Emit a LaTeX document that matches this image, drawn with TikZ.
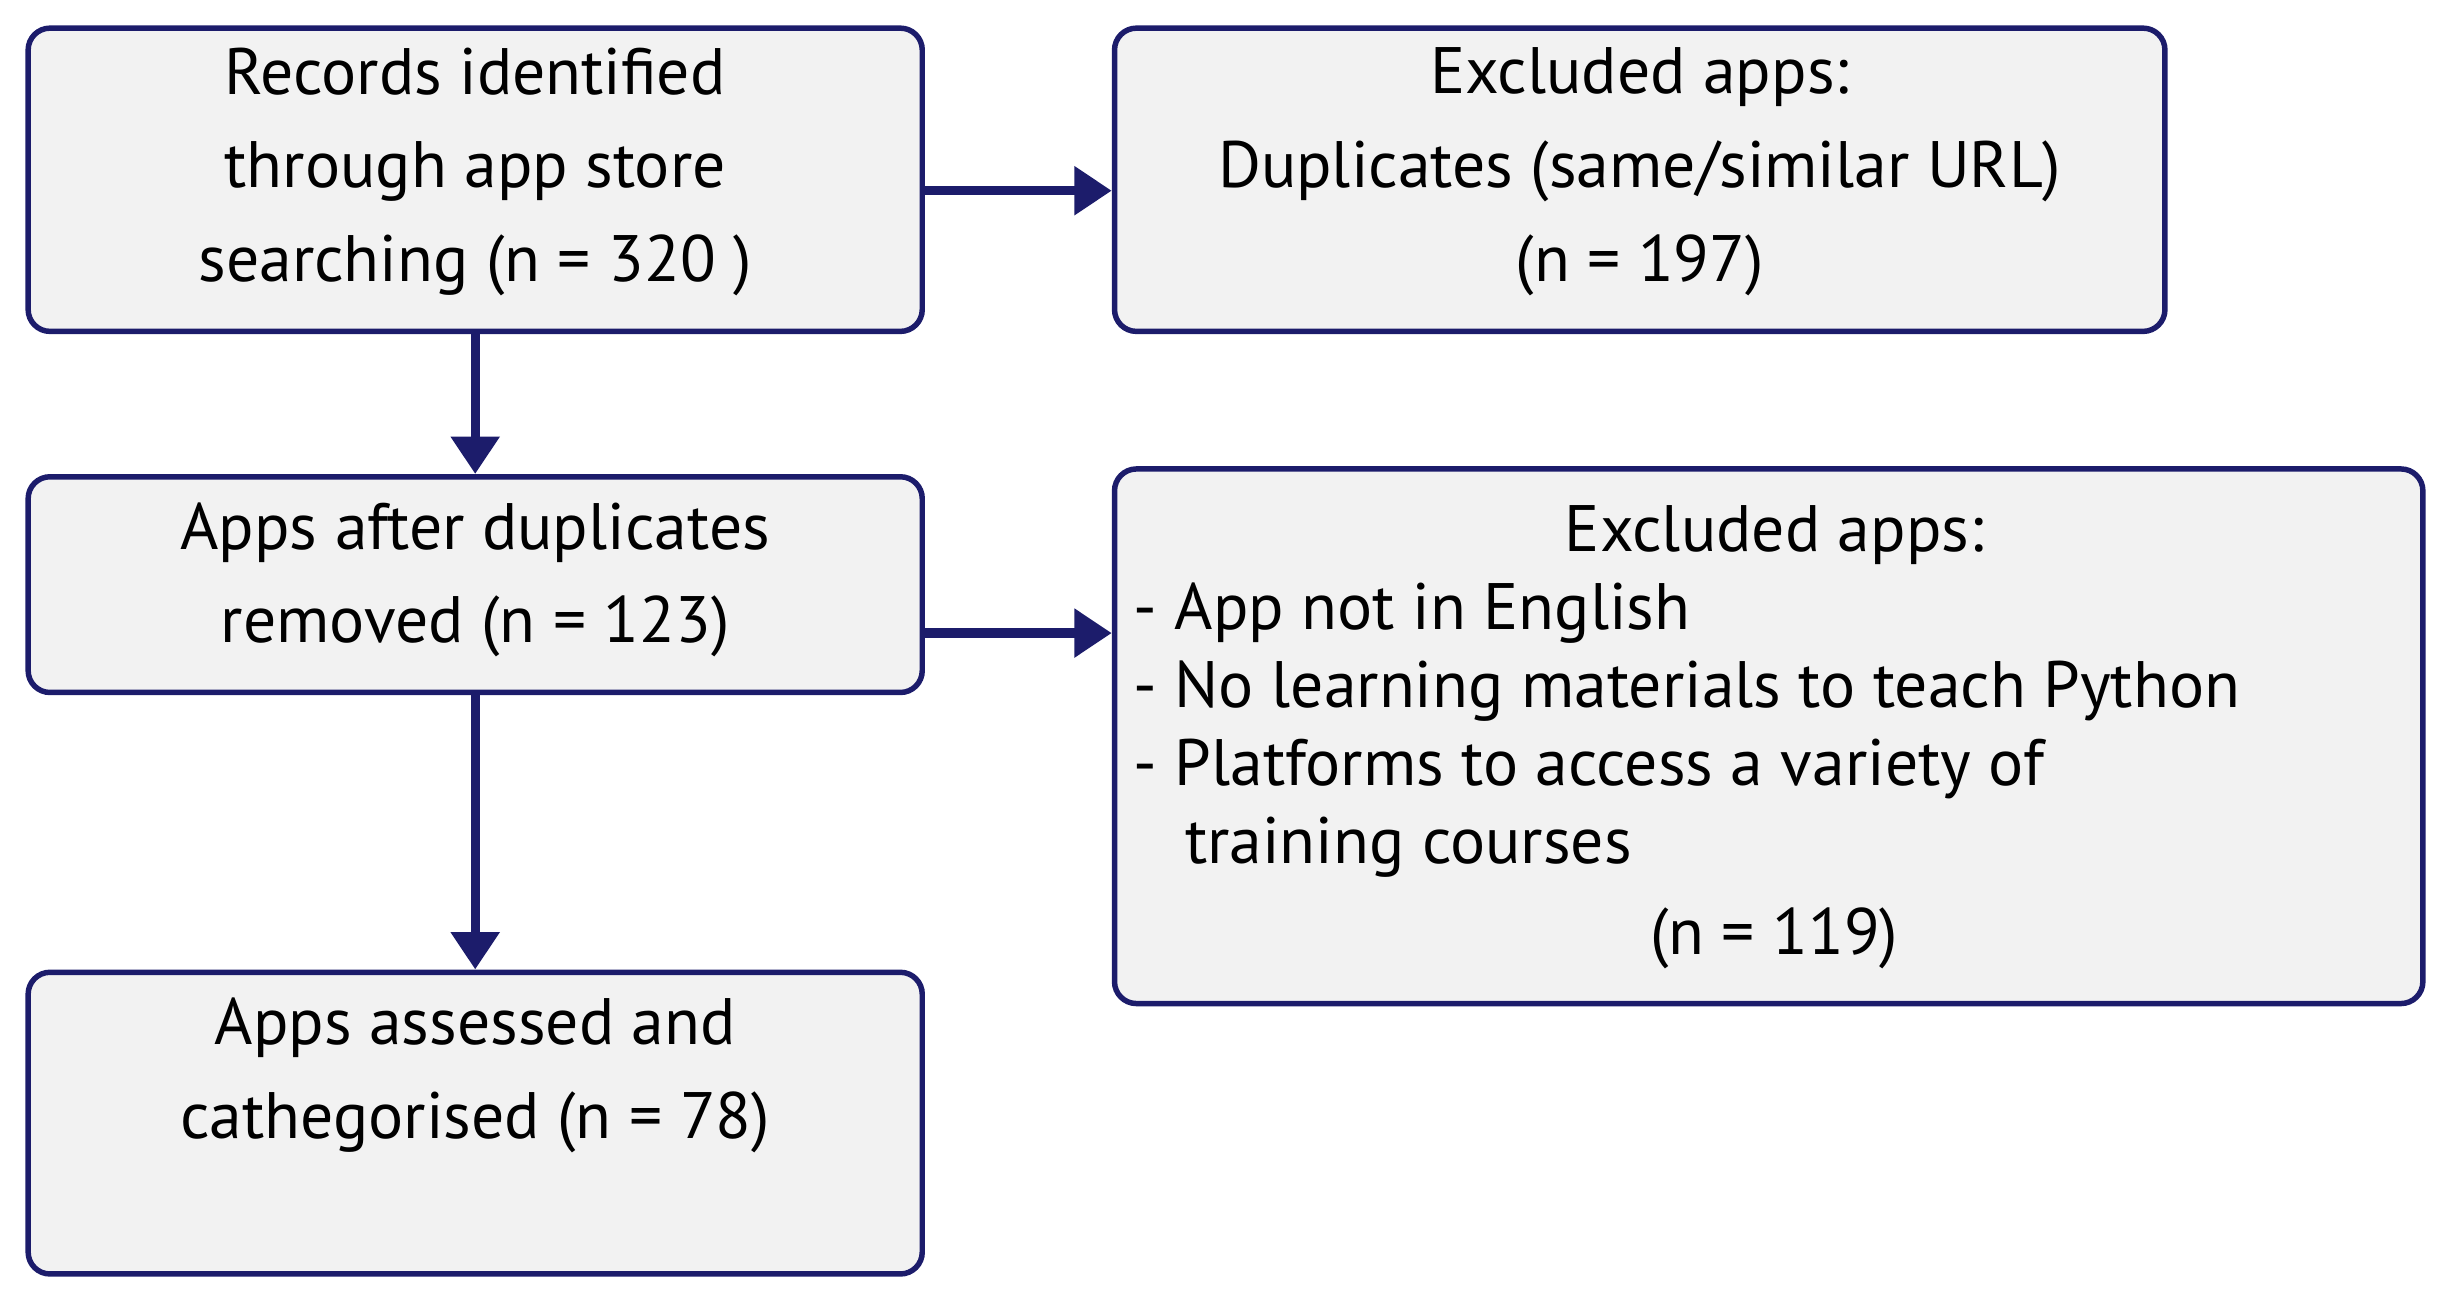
\documentclass[tikz,border=0pt]{standalone}
\usepackage{fontspec}
\setmainfont{PT Sans}
\usetikzlibrary{arrows.meta}
\definecolor{navy}{HTML}{1C1C6B}
\definecolor{boxfill}{HTML}{F2F2F2}
\begin{document}
\begin{tikzpicture}[x=1pt,y=-1pt,
  box/.style={draw=navy,line width=3.5pt,fill=boxfill,rounded corners=14pt,inner sep=0pt},
  txt/.style={font=\fontsize{42}{60}\selectfont,align=center,inner sep=0pt,text=black},
  arr/.style={draw=navy,line width=6pt,-{Triangle[length=24pt,width=30pt]}}]
\useasboundingbox (0,0) rectangle (1568,833);
\node[box,minimum width=572pt,minimum height=194pt] (b1) at (304,115) {};
\node[box,minimum width=672pt,minimum height=194pt] (b2) at (1049,115) {};
\node[box,minimum width=572pt,minimum height=138pt] (b3) at (304,374) {};
\node[box,minimum width=837pt,minimum height=342pt] (b4) at (1131.5,471) {};
\node[box,minimum width=572pt,minimum height=193pt] (b5) at (304,718.5) {};
\node[txt] (t1) at (304,110) {Records identified\\through app store\\searching (n = 320 )};
\node[txt] (t2) at (1049,110) {Excluded apps:\\Duplicates (same/similar URL)\\(n = 197)};
\node[txt] (t3) at (304,371) {Apps after duplicates\\removed (n = 123)};
\node[txt] (t5) at (304,688) {Apps assessed and\\cathegorised (n = 78)};
\node[txt] (t4a) at (1135,342) {Excluded apps:};
\node[txt,anchor=west] (t4b) at (725,392) {- App not in English};
\node[txt,anchor=west] (t4c) at (725,442) {- No learning materials to teach Python};
\node[txt,anchor=west] (t4d) at (725,492) {- Platforms to access a variety of};
\node[txt,anchor=west] (t4e) at (758,542) {training courses};
\node[txt] (t4f) at (1135,600) {(n = 119)};
\coordinate (a1) at (b1.east |- 0,122);
\coordinate (a2) at (b2.west |- 0,122);
\draw[arr] (a1) -- (a2);
\coordinate (a3) at (b3.east |- 0,405);
\coordinate (a4) at (b4.west |- 0,405);
\draw[arr] (a3) -- (a4);
\draw[arr] (b1.south) -- (b3.north);
\draw[arr] (b3.south) -- (b5.north);
\end{tikzpicture}
\end{document}
